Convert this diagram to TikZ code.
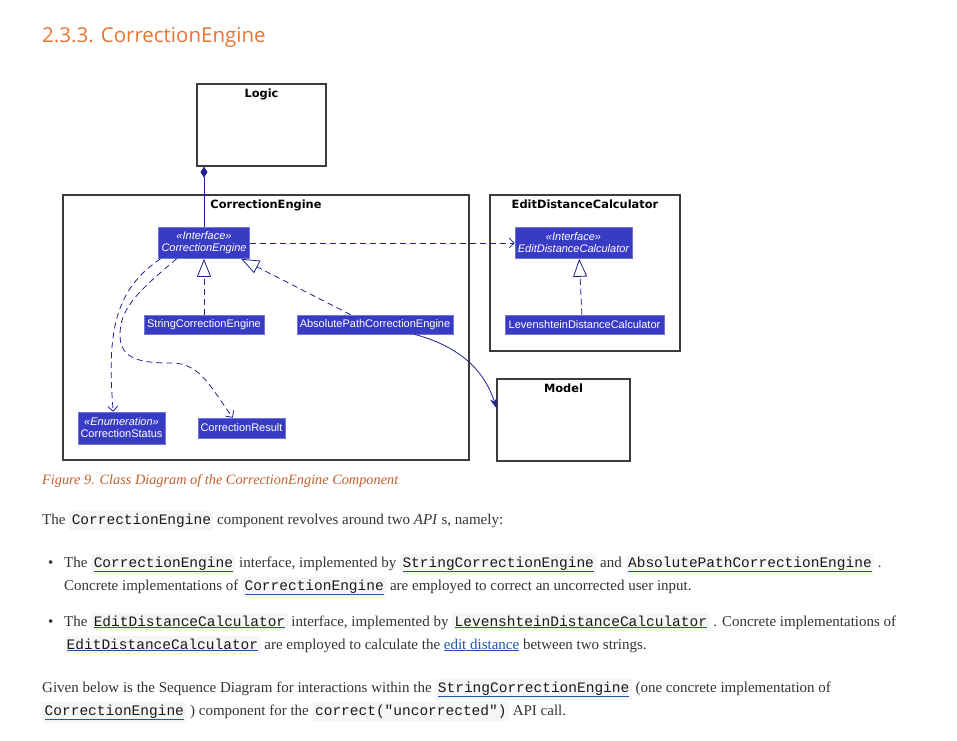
\documentclass[tikz,border=0pt]{standalone}
\usepackage{fontspec}
\setmainfont{Liberation Serif}
\setsansfont{Liberation Sans}
\setmonofont{Liberation Mono}
\newfontfamily\headfont{Open Sans}
\newfontfamily\pkgfont{DejaVu Sans}
\usetikzlibrary{arrows.meta,positioning}

\definecolor{umlfill}{RGB}{56,60,196}
\definecolor{umlline}{RGB}{32,34,140}
\definecolor{frame}{RGB}{60,60,60}
\definecolor{headorange}{RGB}{232,116,50}
\definecolor{capbrown}{RGB}{198,96,42}
\definecolor{bodytext}{RGB}{51,51,51}
\definecolor{codetext}{RGB}{25,25,25}
\definecolor{codebg}{RGB}{246,246,247}
\definecolor{linkblue}{RGB}{33,86,165}

\newcommand\codebit[1]{\begingroup\setlength{\fboxsep}{2.5pt}\colorbox{codebg}{\color{codetext}\ttfamily\fontsize{14.5}{16}\selectfont #1}\endgroup}
\newcommand\codelink[1]{\codebit{{\color{linkblue}\underline{\color{codetext}#1}}}}
\newcommand\weblink[1]{{\color{linkblue}\underline{#1}}}

\tikzset{
  pkg/.style={draw=frame,line width=1.2pt,fill=white,inner sep=0pt},
  pkgname/.style={anchor=north,inner sep=0pt,yshift=-5pt,font=\pkgfont\bfseries\fontsize{11.4}{13}\selectfont},
  cls/.style={fill=umlfill,draw=umlfill!70!white,line width=0.6pt,text=white,inner sep=0pt,align=center,
    font=\sffamily\fontsize{11}{12}\selectfont},
  realize/.style={umlline,line width=0.8pt,dash pattern=on 6pt off 4pt,
    -{Triangle[open,length=18pt,width=14pt,line width=0.8pt,fill=white]}},
  dep/.style={umlline,line width=0.8pt,dash pattern=on 6pt off 4pt,
    -{Straight Barb[length=5pt,width=10pt,line width=0.8pt]}},
  assoc/.style={umlline,line width=0.8pt,-{Stealth[length=10pt,width=7pt]}},
  compose/.style={umlline,line width=0.9pt,{Diamond[length=11pt,width=7pt]}-},
  txt/.style={anchor=base west,inner sep=0pt,text=bodytext,font=\fontsize{15}{18}\selectfont},
}

\begin{document}
\begin{tikzpicture}[x=1pt,y=-1pt]
\fill[white] (0,0) rectangle (957,740);
\useasboundingbox (0,0) rectangle (957,740);

% heading
\node[anchor=base west,inner sep=0pt,text=headorange,font=\headfont\fontsize{20.5}{24}\selectfont]
  (title) at (42,42) {2.3.3. CorrectionEngine};

% packages
\node[pkg,minimum width=129pt,minimum height=82pt] (logic) at (261.5,125) {};
\node[pkgname] at (logic.north) {Logic};
\node[pkg,minimum width=406pt,minimum height=265pt] (cepkg) at (266,327.5) {};
\node[pkgname] at (cepkg.north) {CorrectionEngine};
\node[pkg,minimum width=190pt,minimum height=156pt] (edcpkg) at (585,273) {};
\node[pkgname] at (edcpkg.north) {EditDistanceCalculator};
\node[pkg,minimum width=133pt,minimum height=82pt] (model) at (563.5,420) {};
\node[pkgname] at (model.north) {Model};

% classes
\node[cls,minimum width=91pt,minimum height=31pt] (ice) at (204,243)
  {\itshape «Interface»\\\itshape CorrectionEngine};
\node[cls,minimum width=120pt,minimum height=19pt] (sce) at (204,324.5) {StringCorrectionEngine};
\node[cls,minimum width=156pt,minimum height=19pt] (abs) at (375,324.5) {AbsolutePathCorrectionEngine};
\node[cls,minimum width=87pt,minimum height=32pt] (status) at (121.5,428)
  {\itshape «Enumeration»\\CorrectionStatus};
\node[cls,minimum width=87pt,minimum height=20pt] (result) at (241.5,428) {CorrectionResult};
\node[cls,minimum width=117pt,minimum height=31pt] (iedc) at (573.5,243)
  {\itshape «Interface»\\\itshape EditDistanceCalculator};
\node[cls,minimum width=159pt,minimum height=19pt] (lev) at (584.5,324.5) {LevenshteinDistanceCalculator};

% connectors
\draw[compose] (ice.north |- logic.south) -- (ice.north);
\draw[dep] (ice.east) -- (iedc.west);
\draw[realize] (sce.north) -- (ice.south);
\draw[realize] (abs.158) -- (ice.-23);
\draw[realize] (lev.105) -- (iedc.-70);
\draw[dep] (ice.-160) .. controls +(-48,32) and +(-6,-75) .. (status.117);
\draw[dep] (ice.-150) .. controls +(-42,35) and +(0,-25) .. (120,335)
  .. controls +(0,25) and +(-30,0) .. (172,363)
  .. controls +(28,0) and +(-22,-30) .. (result.130);
\draw[assoc] (abs.-14) .. controls +(45,12) and +(-12,-38) .. (model.170);

% text below
\node[anchor=base west,inner sep=0pt,text=capbrown,font=\itshape\fontsize{14.3}{16}\selectfont]
  (caption) at (42,484) {Figure 9. Class Diagram of the CorrectionEngine Component};
\node[txt] (intro) at (42,524)
  {The \codebit{CorrectionEngine} component revolves around two \textit{API} s, namely:};
\node[txt] (dotA) at (48,567) {•};
\node[txt] (itemA1) at (64,567)
  {The \codelink{CorrectionEngine} interface, implemented by \codelink{StringCorrectionEngine} and \codelink{AbsolutePathCorrectionEngine} .};
\node[txt] (itemA2) at (64,590)
  {Concrete implementations of \codelink{CorrectionEngine} are employed to correct an uncorrected user input.};
\node[txt] (dotB) at (48,626) {•};
\node[txt] (itemB1) at (64,626)
  {The \codelink{EditDistanceCalculator} interface, implemented by \codelink{LevenshteinDistanceCalculator} . Concrete implementations of};
\node[txt] (itemB2) at (64,649)
  {\codelink{EditDistanceCalculator} are employed to calculate the \weblink{edit distance} between two strings.};
\node[txt] (outroA) at (42,692)
  {Given below is the Sequence Diagram for interactions within the \codelink{StringCorrectionEngine} (one concrete implementation of};
\node[txt] (outroB) at (42,715)
  {\codelink{CorrectionEngine} ) component for the \codebit{correct("uncorrected")} API call.};
\end{tikzpicture}
\end{document}
